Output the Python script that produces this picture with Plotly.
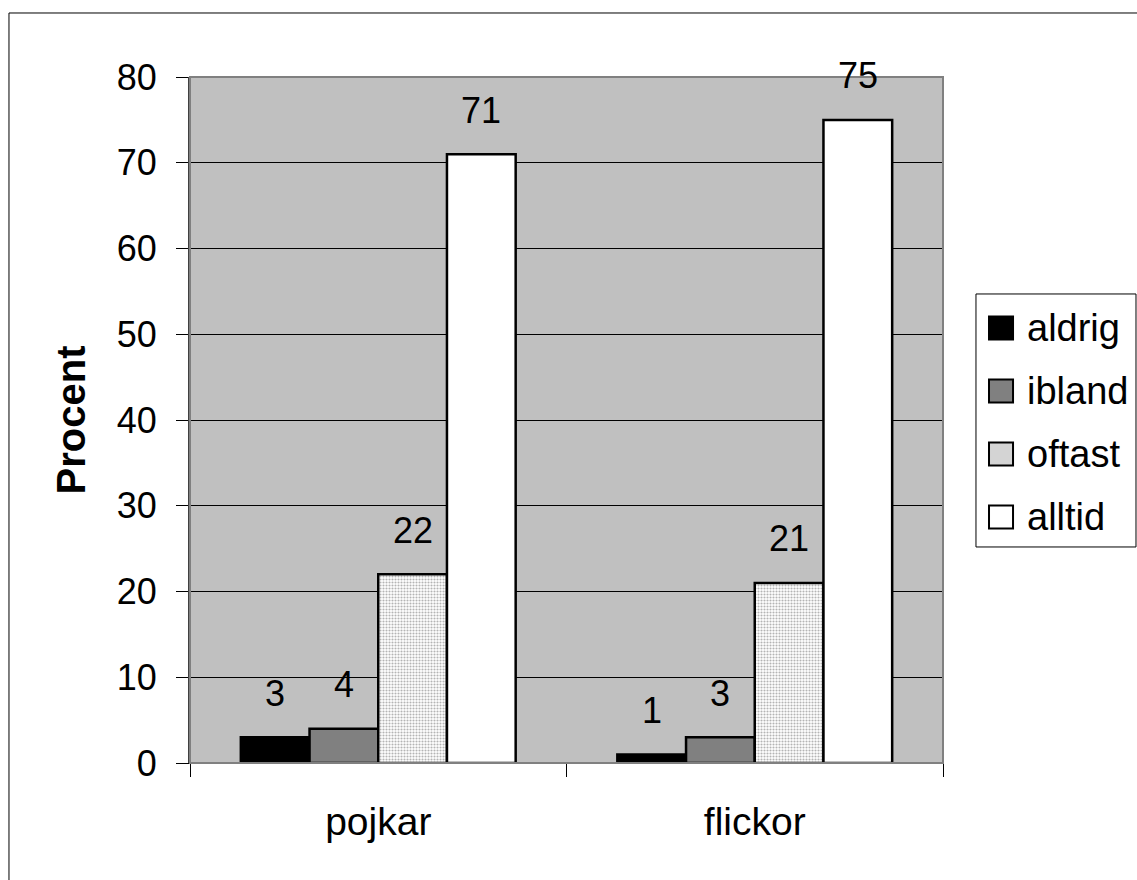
import plotly.graph_objects as go

categories = ["pojkar", "flickor"]
series_names = ["aldrig", "ibland", "oftast", "alltid"]
aldrig = [3, 1]
ibland = [4, 3]
oftast = [22, 21]
alltid = [71, 75]
y_ticks = [0, 10, 20, 30, 40, 50, 60, 70, 80]

values = [aldrig, ibland, oftast, alltid]
fills = ["black", "#808080", None, "white"]
legend_fills = ["black", "#808080", "#D4D4D4", "white"]

FONT = "Liberation Sans, Arial, sans-serif"
FS = 36

fig = go.Figure()
bargap = 0.27
for name, vals, fill in zip(series_names, values, fills):
    marker = dict(line=dict(color="black", width=2.5))
    if fill is None:
        marker["color"] = "white"
        marker["pattern"] = dict(shape=".", fgcolor="#6a6a6a", bgcolor="white",
                                 size=3, solidity=0.4, fillmode="overlay")
    else:
        marker["color"] = fill
    fig.add_trace(go.Bar(name=name, x=categories, y=vals, marker=marker,
                         hoverinfo="skip", showlegend=False))

# value labels placed above each bar
n = len(series_names)
bw = (1 - bargap) / n
annotations = []
for i, vals in enumerate(values):
    off = -(1 - bargap) / 2 + bw * (i + 0.5)
    for j, v in enumerate(vals):
        annotations.append(dict(x=j + off, y=v, xref="x", yref="y", text=str(v),
                                showarrow=False, yanchor="middle", yshift=44,
                                font=dict(family=FONT, size=FS, color="black")))

shapes = []
# plot area border (grey)
shapes.append(dict(type="rect", xref="paper", yref="paper", x0=0, y0=0, x1=1, y1=1,
                   line=dict(color="#808080", width=2), layer="above"))
# outer chart frame
shapes.append(dict(type="rect", xref="paper", yref="paper", x0=-0.2404, y0=-0.3,
                   x1=1.4, y1=1.0933, line=dict(color="black", width=1), layer="above"))

# legend box drawn by hand (matches the original layout)
LX0, LX1, LY0, LY1 = 1.0438, 1.2563, 0.3149, 0.6837
shapes.append(dict(type="rect", xref="paper", yref="paper", x0=LX0, y0=LY0, x1=LX1, y1=LY1,
                   line=dict(color="black", width=1), fillcolor="white", layer="above"))
first_y, step = 0.6341, 0.09184
sym_x0, sym_x1, sym_h = 1.0611, 1.0930, 0.01676
for i, (name, fc) in enumerate(zip(series_names, legend_fills)):
    yc = first_y - i * step
    shapes.append(dict(type="rect", xref="paper", yref="paper",
                       x0=sym_x0, x1=sym_x1, y0=yc - sym_h, y1=yc + sym_h,
                       fillcolor=fc, line=dict(color="black", width=2), layer="above"))
    annotations.append(dict(x=1.1089, y=yc, xref="paper", yref="paper", text=name,
                            showarrow=False, xanchor="left", yanchor="middle",
                            font=dict(family=FONT, size=38, color="black")))

fig.update_layout(
    width=1137, height=880,
    margin=dict(l=190, r=194, t=77, b=117),
    paper_bgcolor="white",
    plot_bgcolor="#C0C0C0",
    barmode="group",
    bargap=bargap,
    bargroupgap=0,
    font=dict(family=FONT, size=FS, color="black"),
    showlegend=False,
    annotations=annotations,
    shapes=shapes,
    hovermode=False,
)
fig.update_xaxes(
    showline=True, linecolor="black", linewidth=1,
    ticks="outside", ticklen=13, tickcolor="black", tickwidth=1,
    tickson="boundaries", showgrid=False, ticklabelstandoff=24,
    tickfont=dict(family=FONT, size=39),
)
fig.update_yaxes(
    range=[0, 80], tickvals=y_ticks,
    showline=True, linecolor="#404040", linewidth=2,
    ticks="outside", ticklen=12, tickcolor="black", tickwidth=1,
    showgrid=True, gridcolor="black", gridwidth=1, zeroline=False,
    title=dict(text="<b>Procent</b>", font=dict(family=FONT, size=40), standoff=19),
    ticklabelstandoff=12,
)

fig.write_html(
    "out.html",
    config={"displayModeBar": False},
    post_script="document.body.style.margin='0';"
                "document.documentElement.style.overflow='hidden';",
)
